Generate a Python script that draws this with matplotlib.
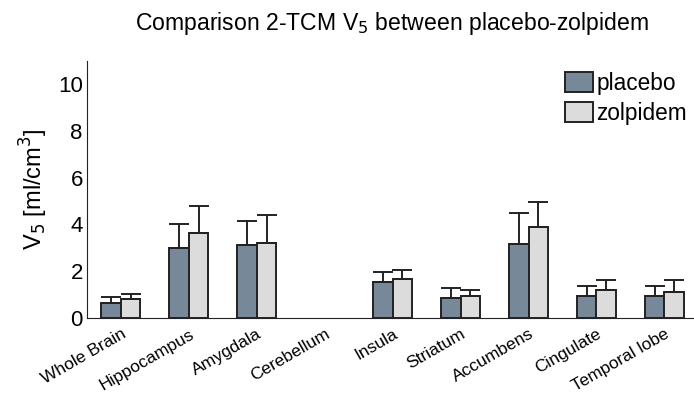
import numpy as np
import matplotlib.pyplot as plt

plt.rcParams['font.family'] = ['Liberation Sans', 'DejaVu Sans']

regions = ['Whole Brain', 'Hippocampus', 'Amygdala', 'Cerebellum', 'Insula',
           'Striatum', 'Accumbens', 'Cingulate', 'Temporal lobe']
placebo_mean = [0.63, 2.98, 3.12, np.nan, 1.55, 0.87, 3.15, 0.95, 0.95]
placebo_sd = [0.27, 1.02, 1.03, np.nan, 0.42, 0.42, 1.35, 0.43, 0.43]
zolpidem_mean = [0.80, 3.65, 3.19, np.nan, 1.65, 0.93, 3.90, 1.20, 1.11]
zolpidem_sd = [0.21, 1.14, 1.20, np.nan, 0.40, 0.28, 1.06, 0.44, 0.50]

x = np.arange(len(regions))
w = 0.287

fig = plt.figure(figsize=(6.94, 3.96), dpi=100)
ax = fig.add_axes([0.1254, 0.197, 0.874, 0.65])

err_kw = dict(ecolor='#222222', elinewidth=1.4, capsize=7, capthick=1.4)
p_err = [np.zeros(len(x)), placebo_sd]
z_err = [np.zeros(len(x)), zolpidem_sd]
ax.bar(x - w / 2, placebo_mean, w, color='#778899', edgecolor='#222222',
       linewidth=1.4, yerr=p_err, error_kw=err_kw, label='placebo')
ax.bar(x + w / 2, zolpidem_mean, w, color='#dcdcdc', edgecolor='#222222',
       linewidth=1.4, yerr=z_err, error_kw=err_kw, label='zolpidem')

ax.set_xlim(-0.5, 8.43)
ax.set_ylim(0, 11)
ax.set_yticks([0, 2, 4, 6, 8, 10])
ax.tick_params(axis='y', labelsize=16, length=0, pad=3)
ax.set_xticks(x)
ax.set_xticklabels(regions, rotation=30, ha='right', rotation_mode='anchor',
                   fontsize=12.5)
ax.tick_params(axis='x', length=0, pad=6)
for s in ['top', 'right']:
    ax.spines[s].set_visible(False)
ax.spines['left'].set_color('#222222')
ax.spines['bottom'].set_color('#222222')

ax.set_ylabel('V$_5$ [ml/cm$^3$]', fontsize=17, labelpad=6)
fig.text(392 / 694, 1 - 30 / 396,
         'Comparison 2-TCM V$_5$ between placebo-zolpidem',
         fontsize=16.6, ha='center', va='baseline')

ax.legend(loc='upper left', bbox_to_anchor=(565 / 694, 1 - 72 / 396),
          bbox_transform=fig.transFigure, frameon=False, fontsize=16.3,
          handlelength=1.24, handleheight=0.97, handletextpad=0.15,
          labelspacing=0.3, borderaxespad=0, borderpad=0)

fig.savefig('out.png', dpi=100)
